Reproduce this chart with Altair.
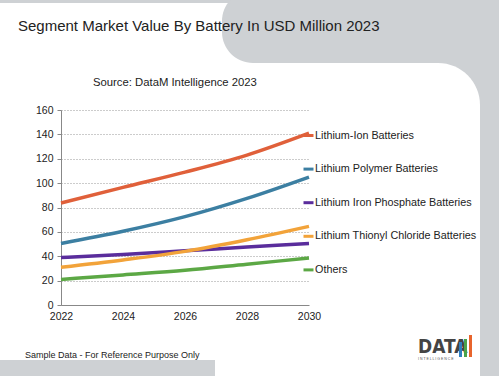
import altair as alt
import pandas as pd

years = [2022, 2024, 2026, 2028, 2030]
series_names = [
    "Lithium-Ion Batteries",
    "Lithium Polymer Batteries",
    "Lithium Iron Phosphate Batteries",
    "Lithium Thionyl Chloride Batteries",
    "Others",
]
li_ion = [83.7, 96.5, 109.0, 123.0, 141.0]
polymer = [50.5, 60.5, 72.5, 87.5, 105.0]
iron_phosphate = [39.0, 41.5, 44.5, 47.5, 50.5]
thionyl = [31.0, 37.0, 44.0, 53.5, 64.5]
others = [21.0, 24.7, 28.5, 33.5, 38.5]
colors = ["#E0603A", "#3C7FA2", "#5A2D9C", "#F2A33A", "#5CA845"]

title_text = "Segment Market Value By Battery In USD Million 2023"
source_text = "Source: DataM Intelligence  2023"
footer_text = "Sample Data - For Reference Purpose Only"

rows = []
for name, vals in zip(series_names, [li_ion, polymer, iron_phosphate, thionyl, others]):
    for y, v in zip(years, vals):
        rows.append({"Year": y, "Value": v, "Segment": name})
df = pd.DataFrame(rows)

FONT = "Liberation Sans"
GRAY = "#CED1D4"
one = alt.Data(values=[{}])

def box(x, x2, y, y2, color, **kw):
    return alt.Chart(one).mark_rect(color=color, **kw).encode(
        x=alt.value(x), x2=alt.value(x2), y=alt.value(y), y2=alt.value(y2)
    )

def label(text, x, y, size, font=FONT, **kw):
    return alt.Chart(one).mark_text(text=text, font=font, fontSize=size, **kw).encode(
        x=alt.value(x), y=alt.value(y)
    )

# decorative background (coordinates relative to plot origin at canvas 61,110)
bg = [
    box(-61, 438, -110, -107, GRAY),
    box(161, 520, -120, -47, GRAY, cornerRadius=31),
    box(369, 459, -55, 40, GRAY),
    box(419, 459, -55, 266, GRAY),
    box(330, 419, -47, 40, "white", cornerRadiusTopRight=42),
    box(-61, 154, 250, 266, GRAY),
]

lines = alt.Chart(df).mark_line(strokeWidth=3.5, interpolate="monotone").encode(
    x=alt.X("Year:Q", scale=alt.Scale(domain=[2022, 2030], nice=False),
            axis=alt.Axis(values=years, format="d", title=None, grid=False, ticks=False,
                          labelFontSize=10.5, labelColor="#222", labelFont=FONT,
                          labelPadding=6, domainColor="#888", labelFlush=False)),
    y=alt.Y("Value:Q", scale=alt.Scale(domain=[0, 160], nice=False),
            axis=alt.Axis(values=list(range(0, 161, 20)), title=None, grid=True,
                          gridDash=[1, 2], gridColor="#999", tickSize=4, tickColor="#888",
                          domainColor="#888", labelFontSize=10.5, labelColor="#222",
                          labelFont=FONT, labelPadding=4)),
    color=alt.Color("Segment:N", sort=series_names,
                    scale=alt.Scale(domain=series_names, range=colors),
                    legend=alt.Legend(orient="none", legendX=241, legendY=19,
                                      symbolType="stroke", symbolSize=100,
                                      symbolStrokeWidth=3, labelFontSize=10.8,
                                      labelFont=FONT, labelColor="#222",
                                      rowPadding=20.6, padding=0, labelOffset=0,
                                      title=None, labelLimit=300)),
)

texts = [
    label(title_text, -43, -79, 15, align="left", baseline="alphabetic", color="#222"),
    label(source_text, 32, -24, 11.3, align="left", baseline="alphabetic", color="#222"),
    label(footer_text, -36, 245, 9.0, align="left", baseline="middle", color="#222"),
    label("DATA", 357, 237, 19, font="DejaVu Sans Condensed", align="left",
          baseline="middle", color="#444", fontWeight="bold"),
    label("I N T E L L I G E N C E", 357, 249, 3.5, align="left", baseline="middle", color="#555"),
]
logo_bars = [
    box(398, 401, 232, 247, "#2F7FBF"),
    box(403, 406, 229, 247, "#4BA34A"),
    box(408, 411, 225, 247, "#E8642C"),
]

chart = alt.layer(*bg, lines, *texts, *logo_bars).properties(
    width=248, height=195,
    padding={"left": 61, "top": 110, "right": 190, "bottom": 71},
    autosize=alt.AutoSizeParams(type="none"),
    background="white",
).configure_view(stroke=None)

chart.save("out.html", embed_options={"renderer": "svg", "actions": False})
